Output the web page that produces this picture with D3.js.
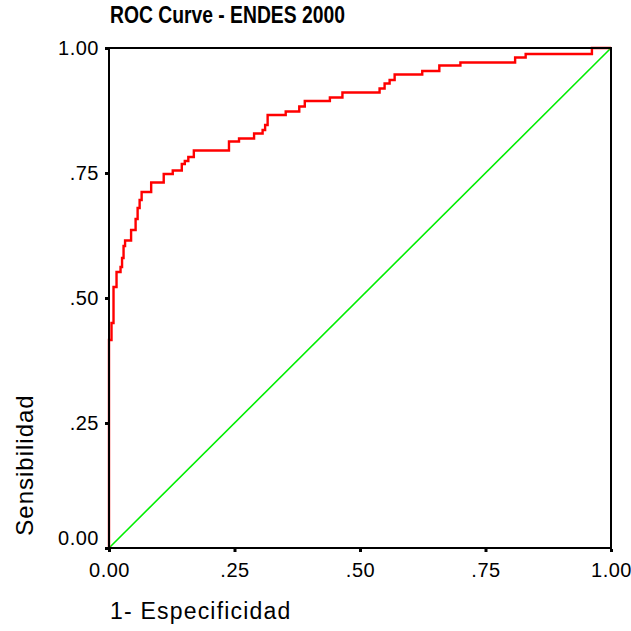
<!DOCTYPE html>
<html>
<head>
<meta charset="utf-8">
<script src="https://cdn.jsdelivr.net/npm/d3@7"></script>
<style>
  body { margin: 0; background: #fff; }
  text { font-family: "Liberation Sans", Arial, sans-serif; }
</style>
</head>
<body>
<svg id="roc" width="631" height="631"></svg>
<script>
// ROC curve: 1-specificity (fpr) and sensitivity (tpr)
let fpr = [0, 0, 0.005, 0.009, 0.015, 0.023, 0.026, 0.029, 0.032, 0.044, 0.053, 0.057, 0.061, 0.065,
    0.084, 0.109, 0.127, 0.145, 0.151, 0.158, 0.169, 0.239, 0.259, 0.289, 0.306, 0.311, 0.316,
    0.352, 0.379, 0.390, 0.440, 0.465, 0.539, 0.549, 0.559, 0.569, 0.624, 0.658, 0.700, 0.809,
    0.830, 0.962, 1]
let tpr = [0, 0.416, 0.450, 0.522, 0.552, 0.562, 0.580, 0.604, 0.615, 0.636, 0.658, 0.680, 0.696, 0.712,
    0.731, 0.748, 0.755, 0.768, 0.774, 0.782, 0.795, 0.813, 0.819, 0.829, 0.836, 0.846, 0.866,
    0.873, 0.883, 0.894, 0.901, 0.911, 0.919, 0.929, 0.936, 0.947, 0.954, 0.965, 0.971, 0.981,
    0.988, 1, 1]
// reference line
let diagonal = [0, 1]
let tickValues = [0, 0.25, 0.5, 0.75, 1]
let tickLabels = ["0.00", ".25", ".50", ".75", "1.00"]

let chartTitle = "ROC Curve - ENDES 2000"
let xTitle = "1- Especificidad"
let yTitle = "Sensibilidad"

// plot box
let boxLeft = 109, boxRight = 611, boxTop = 48, boxBottom = 548

let svg = d3.select("#roc")

let xscale = d3.scaleLinear().domain([0, 1]).range([boxLeft, boxRight])
let yscale = d3.scaleLinear().domain([0, 1]).range([boxBottom, boxTop])

let fmt = d => tickLabels[tickValues.indexOf(d)]

// diagonal
svg.append("path")
    .datum(diagonal)
    .attr("d", d3.line().x(d => xscale(d)).y(d => yscale(d)))
    .attr("fill", "none")
    .attr("stroke", "#00ee00")
    .attr("stroke-width", 1.6)

// roc curve as steps
let rocData = fpr.map((f, i) => [f, tpr[i]])
svg.append("path")
    .datum(rocData)
    .attr("d", d3.line().x(d => xscale(d[0])).y(d => yscale(d[1])).curve(d3.curveStepAfter))
    .attr("fill", "none")
    .attr("stroke", "#ff0000")
    .attr("stroke-width", 2.4)

// frame
svg.append("rect")
    .attr("x", boxLeft).attr("y", boxTop)
    .attr("width", boxRight - boxLeft).attr("height", boxBottom - boxTop)
    .attr("fill", "none")
    .attr("stroke", "#000")
    .attr("stroke-width", 2)

// axes (ticks are drawn as small squares)
let xAxis = d3.axisBottom(xscale).tickValues(tickValues).tickFormat(fmt).tickSizeInner(3).tickSizeOuter(0).tickPadding(11)
let gx = svg.append("g").attr("transform", "translate(0," + (boxBottom + 1) + ")").call(xAxis)
gx.select(".domain").remove()
gx.selectAll("line").attr("stroke", "#000").attr("stroke-width", 3)
gx.selectAll("text").attr("fill", "#000").style("font-size", "20px")
    .style("letter-spacing", "0.5px")
    .style("font-family", "'Liberation Sans', Arial, sans-serif")

let yAxis = d3.axisLeft(yscale).tickValues(tickValues).tickFormat(fmt).tickSizeInner(3).tickSizeOuter(0).tickPadding(6)
let gy = svg.append("g").attr("transform", "translate(" + (boxLeft - 1) + ",0)").call(yAxis)
gy.select(".domain").remove()
gy.selectAll("line").attr("stroke", "#000").attr("stroke-width", 3)
gy.selectAll("text").attr("fill", "#000").style("font-size", "20px")
    .style("letter-spacing", "0.5px")
    .style("font-family", "'Liberation Sans', Arial, sans-serif")
    .attr("dy", d => d == 0 ? "-0.2em" : "0.32em")

// title (narrow bold)
svg.append("text")
    .attr("transform", "translate(110,23) scale(0.84,1)")
    .style("font-weight", "bold")
    .style("font-size", "23px")
    .text(chartTitle)

// axis titles
svg.append("text")
    .attr("x", 110)
    .attr("y", 619)
    .style("font-size", "23px")
    .style("letter-spacing", "1.2px")
    .text(xTitle)

svg.append("text")
    .attr("transform", "translate(33,465) rotate(-90)")
    .attr("text-anchor", "middle")
    .style("font-size", "24px")
    .style("letter-spacing", "1px")
    .text(yTitle)
</script>
</body>
</html>
